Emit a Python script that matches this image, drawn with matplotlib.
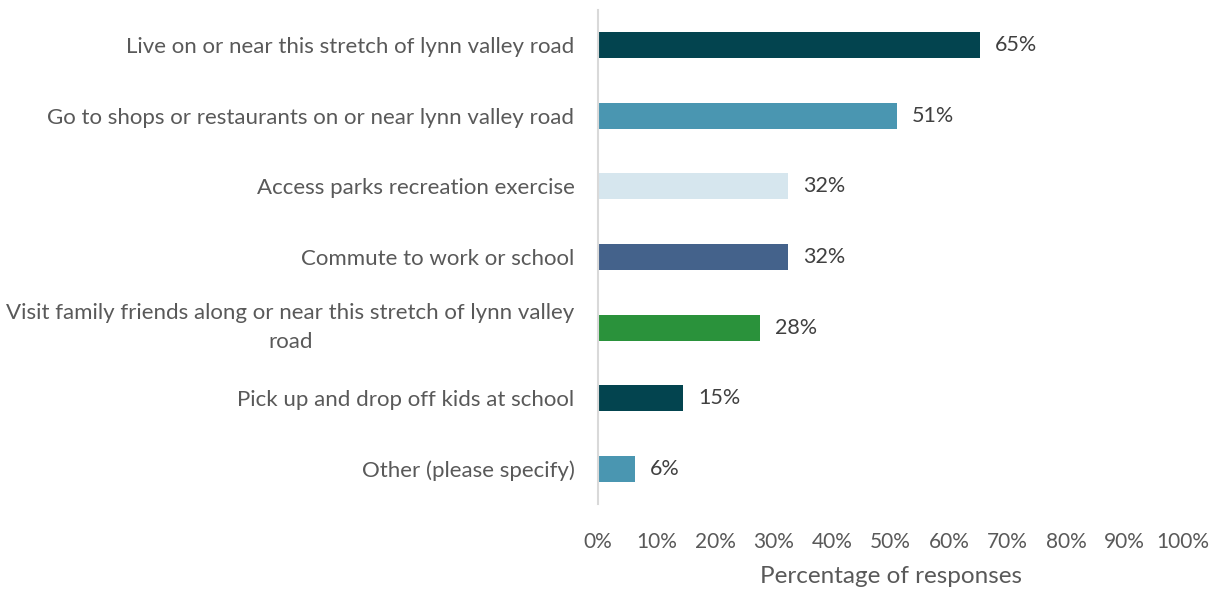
import matplotlib.pyplot as plt
import matplotlib.transforms as mtransforms
from matplotlib.ticker import PercentFormatter

categories = [
    "Live on or near this stretch of lynn valley road",
    "Go to shops or restaurants on or near lynn valley road",
    "Access parks recreation exercise",
    "Commute to work or school",
    "Visit family friends along or near this stretch of lynn valley\nroad",
    "Pick up and drop off kids at school",
    "Other (please specify)",
]
values = [65.3, 51.1, 32.4, 32.4, 27.7, 14.6, 6.3]
colors = ["#03444F", "#4A96B1", "#D6E6EE", "#44628B", "#2A923B", "#03444F", "#4A96B1"]

plt.rcParams["font.family"] = ["Lato", "DejaVu Sans"]

fig = plt.figure(figsize=(12.19, 5.89), dpi=100)
ax = fig.add_axes([598 / 1219, 1 - 504.3 / 589, 585 / 1219, 494.6 / 589])

y = list(range(len(categories)))
ax.barh(y, values, height=0.37, color=colors)
ax.set_ylim(len(categories) - 0.5, -0.5)
ax.set_xlim(0, 100)
ax.set_yticks(y)
ax.set_yticklabels(categories, fontsize=16, color="#595959",
                   multialignment="center", linespacing=1.55)
ax.set_xticks(range(0, 101, 10))
ax.xaxis.set_major_formatter(PercentFormatter(decimals=0))
ax.tick_params(axis="x", length=0, pad=20, labelsize=15, labelcolor="#595959")
ax.tick_params(axis="y", length=0, pad=17)

# nudge the two-line label up so it sits centred on its bar
lbl = ax.get_yticklabels()[4]
lbl.set_transform(lbl.get_transform() + mtransforms.ScaledTranslation(0, 5 / 72, fig.dpi_scale_trans))

for v, yy in zip(values, y):
    ax.text(v + 2.6, yy, f"{v:.0f}%", va="center", ha="left", fontsize=15.5, color="#404040")

for s in ["top", "right", "bottom"]:
    ax.spines[s].set_visible(False)
ax.spines["left"].set_color("#D9D9D9")
ax.spines["left"].set_linewidth(1.5)

ax.set_xlabel("Percentage of responses", fontsize=17.5, color="#595959", labelpad=10)

fig.savefig("out.png", dpi=100)
